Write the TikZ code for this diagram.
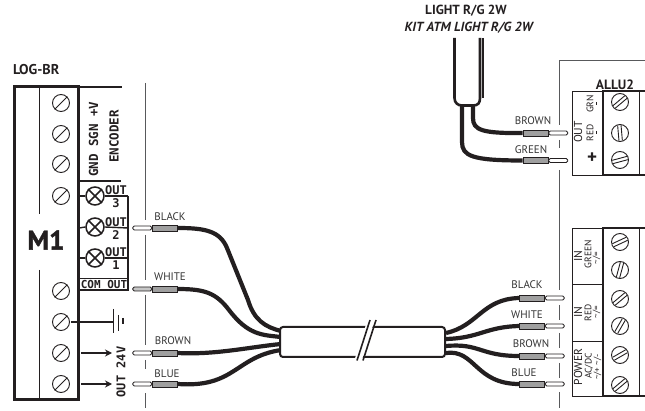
\documentclass[tikz,border=0pt]{standalone}
\usepackage{fontspec}
\setmainfont{PT Sans}
\newfontfamily\monob[BoldFont={DejaVu Sans Mono Bold}]{DejaVu Sans Mono}
\newfontfamily\heavyfont[BoldFont={PT Sans Bold},BoldFeatures={FakeBold=1.5}]{PT Sans}
\usetikzlibrary{arrows.meta}
\definecolor{ink}{HTML}{231F20}
\definecolor{guide}{HTML}{58595B}
\tikzset{
  screw/.style={circle,draw=ink,line width=.9pt,minimum size=17pt,inner sep=0pt,fill=white},
  slash/.style={draw=ink,line width=.9pt},
  heavy/.style={draw=ink,line width=3pt},
  rule/.style={draw=ink,line width=1.4pt},
  guideline/.style={draw=guide,line width=.9pt},
  wire/.style={draw=ink,line width=4.2pt},
  ferrule/.style={rectangle,draw=ink,line width=.8pt,fill=gray!75,minimum width=25pt,minimum height=6pt,inner sep=0pt},
  pinbody/.style={rectangle,rounded corners=1.5pt,draw=ink,line width=.8pt,fill=white,minimum width=19pt,minimum height=4pt,inner sep=0pt},
  lab/.style={font=\fontsize{11}{12}\selectfont,text=black!80,inner sep=0pt},
  title/.style={font=\fontsize{13.2}{14}\selectfont\bfseries,text=ink,inner sep=0pt},
  mono/.style={font=\fontsize{12.5}{13}\monob\bfseries,text=ink,inner sep=0pt},
  lampmono/.style={font=\fontsize{12}{12}\monob\bfseries,text=ink,inner sep=0pt},
  vtext/.style={text=ink,inner sep=0pt,rotate=90},
  vlarge/.style={vtext,font=\fontsize{11.5}{12}\selectfont},
  vmid/.style={vtext,font=\fontsize{9.5}{10}\selectfont},
  vsmall/.style={vtext,font=\fontsize{9}{9}\selectfont},
  lamp/.style={circle,draw=ink,line width=1.5pt,minimum size=18pt,inner sep=0pt,fill=white},
  cablebody/.style={rectangle,rounded corners=3pt,draw=ink,line width=2pt,fill=white,minimum width=165pt,minimum height=30pt,inner sep=0pt},
}
\newcommand{\lscrew}[3]{\node[screw] (#1) at (#2,#3) {};\draw[slash] (#1.45) -- (#1.225);}
\newcommand{\rscrew}[4]{\node[screw] (#1) at (#2,#3) {};
  \begin{scope}[shift={(#1.center)},rotate=#4]
    \draw[slash] (-7.6,-1.7) -- (7.6,-1.7); \draw[slash] (-7.6,1.7) -- (7.6,1.7);
  \end{scope}}
\newcommand{\lamp}[2]{\node[lamp] (#1) at (95,#2) {};
  \draw[line width=1.5pt,draw=ink] (#1.45) -- (#1.225) (#1.135) -- (#1.315);}
\newcommand{\plugleft}[4][white]{\node[ferrule] (#2) at (#3,#4) {};\node[pinbody,fill=#1,anchor=east] (#2p) at (#2.west) {};}
\newcommand{\plugright}[3]{\node[ferrule] (#1) at (#2,#3) {};\node[pinbody,anchor=west] (#1p) at (#1.east) {};}
\begin{document}
\begin{tikzpicture}[x=1pt,y=-1pt]
\useasboundingbox (0,0) rectangle (645,411);
% ---- guide lines
\draw[guideline] (145.5,83) -- (145.5,220) (145.5,235) -- (145.5,280) (145.5,295) -- (145.5,345) (145.5,360) -- (145.5,369) (145.5,393) -- (145.5,408);
\draw[guideline] (645,60) -- (559,60) -- (559,125) (559,140) -- (559,148) (559,170) -- (559,290) (559,305) -- (559,320) (559,333) -- (559,348) (559,363) -- (559,378) (559,392) -- (559,408);
% ---- left block
\node[title,anchor=west,font=\fontsize{14.2}{15}\selectfont\bfseries] (logbr) at (13,70) {LOG-BR};
\draw[heavy,line join=miter] (14,87) rectangle (78.5,399);
\draw[draw=ink,line width=.9pt] (39,87) -- (39,214) (39,270) -- (39,399);
\node[title,font=\fontsize{27}{28}\heavyfont\bfseries] (mone) at (46,240) {M1};
\lscrew{a1}{61}{103}\lscrew{a2}{61}{134}\lscrew{a3}{61}{164}\lscrew{a4}{61}{196}
\lscrew{a5}{61}{291}\lscrew{a6}{61}{322}\lscrew{a7}{61}{353}\lscrew{a8}{61}{384}
\draw[rule] (79,87) -- (122,87) (79,181) -- (121,181);
\node[mono,rotate=90,anchor=west] (enc1) at (93.5,177) {GND SGN +V};
\node[mono,rotate=90] (enc2) at (114,136.5) {ENCODER};
% ---- outputs
\draw[rule] (128,196) -- (128,290) -- (79,290);
\draw[rule] (79,278.5) -- (128,278.5);
\lamp{l3}{196}\lamp{l2}{227}\lamp{l1}{258}
\foreach \n/\y in {l3/196,l2/228,l1/258}{
  \draw[rule] (79,\y) -- (\n.west);
  \draw[rule] (\n.east) -- (128,\y);
  \node[lampmono] at (116,\y-6) {OUT};
}
\node[lampmono] (n3) at (116,203.5) {3};
\node[lampmono] (n2) at (116,235) {2};
\node[lampmono] (n1) at (116,265.5) {1};
\node[lampmono,font=\fontsize{11}{11}\monob\bfseries] (com) at (104,284.5) {COM OUT};
% ---- ground
\coordinate (gnd) at (113.5,322);
\draw[rule] (a6.east)+(1.5,0) -- (gnd);
\draw[rule] (113.5,309) -- (113.5,333) (118.5,315) -- (118.5,331) (123,318) -- (123,324);
% ---- out arrows
\coordinate (ar1) at (112,353); \coordinate (ar2) at (112,384);
\draw[rule,-{Stealth[length=7pt,width=7pt]}] (81,353) -- (ar1);
\draw[rule,-{Stealth[length=7pt,width=7pt]}] (81,384) -- (ar2);
\node[mono,font=\fontsize{12}{12}\monob\bfseries,rotate=90] (out24) at (121,372) {OUT 24V};
% ---- left plugs
\plugleft{pa}{165}{228}\plugleft[gray!45]{pb}{165}{289}\plugleft{pc}{165}{353}\plugleft{pd}{165}{384}
\node[lab] (tba) at (170,217) {BLACK};
\node[lab] (tbb) at (170,277) {WHITE};
\node[lab] (tbc) at (173,341) {BROWN};
\node[lab] (tbd) at (167,374) {BLUE};
% ---- right plugs
\plugright{qa}{532}{298}\plugright{qb}{532}{326}\plugright{qc}{532}{356}\plugright{qd}{532}{384}
\node[lab] (tqa) at (527,285) {BLACK};
\node[lab] (tqb) at (527,315) {WHITE};
\node[lab] (tqc) at (531,344) {BROWN};
\node[lab] (tqd) at (524,373) {BLUE};
% ---- wires (left)
\draw[wire,line join=round] (pa.east) .. controls (205,228) and (220,231) .. (227,248) -- (248,300) .. controls (254,320) and (265,327) .. (281,331);
\draw[wire,line join=round] (pb.east) .. controls (205,289) and (216,293) .. (229,310) .. controls (248,335) and (262,335) .. (281,337);
\draw[wire] (pc.east) .. controls (215,355) and (250,347) .. (281,344);
\draw[wire] (pd.east) .. controls (235,388) and (235,357) .. (281,350);
% ---- wires (right)
\draw[wire] (446,333) .. controls (478,326) and (482,299) .. (qa.west);
\draw[wire] (446,339) .. controls (480,338) and (485,327) .. (qb.west);
\draw[wire] (446,346) .. controls (480,343) and (480,356) .. (qc.west);
\draw[wire] (446,353) .. controls (475,349) and (475,384) .. (qd.west);
% ---- cable and its break mark
\node[cablebody] (cable) at (362.5,342) {};
\draw[white,line width=7pt] (370.5,322) -- (358.5,359);
\coordinate (ba) at (370,320); \coordinate (bb) at (357,360.5);
\coordinate (ca) at (376,320); \coordinate (cb) at (363,360.5);
\draw[draw=ink,line width=1.6pt] (ba) -- (bb);
\draw[draw=ink,line width=1.6pt] (ca) -- (cb);
% ---- top cable
\node[title,anchor=east] (t1) at (507,10.5) {LIGHT R/G 2W};
\node[title,anchor=east,font=\fontsize{13.2}{14}\selectfont\bfseries\itshape] (t2) at (533,28) {KIT ATM LIGHT R/G 2W};
\coordinate (sheathL) at (454.5,38); \coordinate (sheathR) at (480,38); \coordinate (sheathRR) at (483,38);
\plugright{ra}{535.5}{133}\plugright{rb}{535.5}{160.5}
\draw[wire] (473,104) -- (473,118) .. controls (473,130) and (482,133.5) .. (ra.west);
\draw[wire] (462,104) -- (462,142) .. controls (462,156) and (472,160.5) .. (rb.west);
\draw[draw=ink,line width=2.6pt,fill=white] (sheathL) -- (454.5,98) .. controls (454.5,103) and (458,105.5) .. (462,105.5) -- (473,105.5) .. controls (478,105.5) and (480,103) .. (480,98) -- (sheathR);
\draw[draw=ink,line width=1.1pt] (sheathRR) -- (483,98);
\node[lab] (tra) at (533,121) {BROWN};
\node[lab] (trb) at (531,150) {GREEN};
% ---- ALLU2 block
\node[title,font=\fontsize{13.5}{14}\selectfont\bfseries] (allu) at (615,85) {ALLU2};
\draw[draw=ink,line width=.7pt] (603,91) -- (572,91) -- (572,175) -- (603,175);
\draw[draw=ink,line width=2.4pt] (645,91) -- (603,91) -- (603,175) -- (645,175);
\draw[draw=ink,line width=.8pt] (639,91) -- (639,175);
\rscrew{b1}{620}{102}{40}\rscrew{b2}{620}{133}{95}\rscrew{b3}{620}{160}{15}
\node[vlarge] (o1) at (578,132) {OUT};
\node[vmid] (o2) at (590,133) {RED};
\node[vmid] (o3) at (590,104) {GRN};
\coordinate (dash1) at (596.5,102); \coordinate (dash2) at (596.5,105);
\coordinate (dash3) at (596.5,131); \coordinate (dash4) at (596.5,134);
\draw[draw=ink,line width=.7pt] (dash1) -- (dash2) (dash3) -- (dash4);
\node[inner sep=0pt,font=\fontsize{19}{19}\selectfont\bfseries,text=ink] (plus) at (592,158) {+};
% ---- lower terminal block
\draw[draw=ink,line width=.7pt] (603,228) -- (572,228) -- (572,396) -- (603,396) (572,284) -- (603,284) (572,341) -- (603,341);
\draw[draw=ink,line width=2.4pt] (645,228) -- (603,228) -- (603,396) -- (645,396);
\draw[draw=ink,line width=.8pt] (639,228) -- (639,396);
\rscrew{c1}{620}{242}{25}\rscrew{c2}{620}{270}{75}\rscrew{c3}{620}{299}{40}\rscrew{c4}{620}{326}{60}\rscrew{c5}{620}{355}{30}\rscrew{c6}{620}{385}{40}
\node[vlarge] (i1) at (578,256) {IN};
\node[vmid] (i2) at (588,254) {GREEN};
\node[vsmall] (i3) at (596.5,258) {\textasciitilde/=};
\node[vlarge] (i4) at (578,312) {IN};
\node[vmid] (i5) at (588,313) {RED};
\node[vsmall] (i6) at (596.5,312) {\textasciitilde/=};
\node[vlarge] (i7) at (578,367) {POWER};
\node[vmid] (i8) at (589,366) {AC/DC};
\node[vsmall] (i9) at (597.5,367) {\textasciitilde/+ \textasciitilde/-};
\end{tikzpicture}
\end{document}
